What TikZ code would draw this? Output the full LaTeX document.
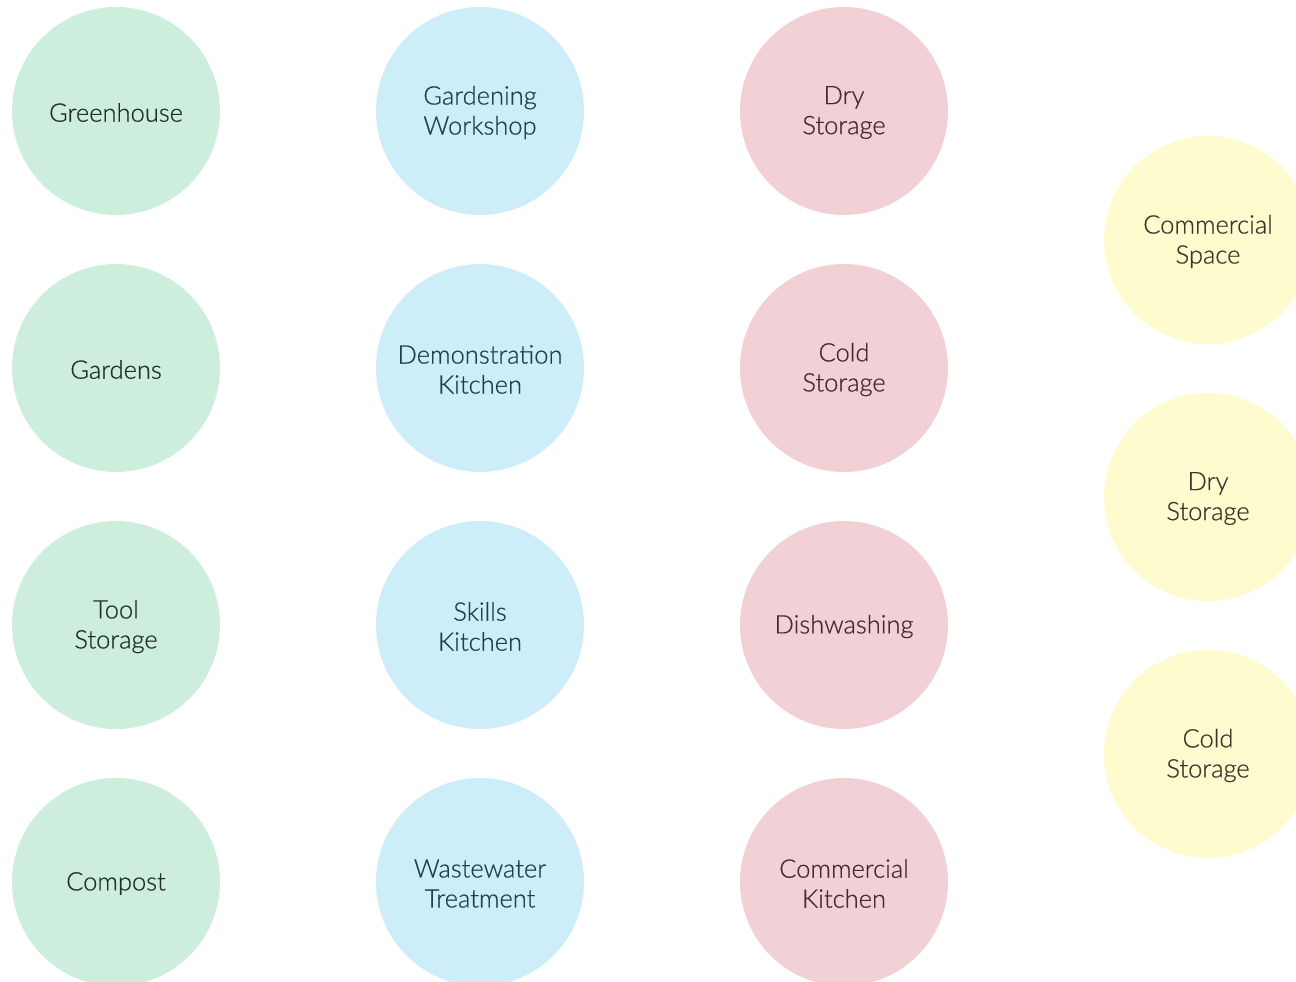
\documentclass[tikz,border=0pt]{standalone}
\usepackage{fontspec}
\setmainfont{Lato Light}[FakeBold=0.6]
\definecolor{gfill}{HTML}{CDEDDD}
\definecolor{bfill}{HTML}{CDEDF9}
\definecolor{pfill}{HTML}{F2D1D6}
\definecolor{yfill}{HTML}{FEFBCE}
\definecolor{gtext}{HTML}{22302A}
\definecolor{btext}{HTML}{1E3F4E}
\definecolor{ptext}{HTML}{4A2830}
\definecolor{ytext}{HTML}{38372A}
\tikzset{
  disc/.style={circle, minimum size=208pt, inner sep=0pt},
  caption/.style={inner sep=0pt, align=center, yshift=-1.5pt,
    font=\fontsize{25.5}{30}\selectfont},
  gbub/.style={disc, fill=gfill},
  bbub/.style={disc, fill=bfill},
  pbub/.style={disc, fill=pfill},
  ybub/.style={disc, fill=yfill},
  gcap/.style={caption, text=gtext},
  bcap/.style={caption, text=btext},
  pcap/.style={caption, text=ptext},
  ycap/.style={caption, text=ytext},
}
\begin{document}
\begin{tikzpicture}[x=1pt,y=-1pt]
\path[use as bounding box] (0,0) rectangle (1296,982);
\begin{scope}
\clip (0,0) rectangle (1296,982);
\node[gbub] (greenhouse) at (116,111) {};
\node[gbub] (gardens) at (116,368) {};
\node[gbub] (toolstorage) at (116,625) {};
\node[gbub] (compost) at (116,882) {};
\node[bbub] (workshop) at (480,111) {};
\node[bbub] (demo) at (480,368) {};
\node[bbub] (skills) at (480,625) {};
\node[bbub] (waste) at (480,882) {};
\node[pbub] (drystorage) at (844,111) {};
\node[pbub] (coldstorage) at (844,368) {};
\node[pbub] (dish) at (844,625) {};
\node[pbub] (commkitchen) at (844,882) {};
\node[ybub] (commspace) at (1208,240) {};
\node[ybub] (ydry) at (1208,497) {};
\node[ybub] (ycold) at (1208,754) {};
\end{scope}
\node[gcap] (greenhouse-t) at (greenhouse) {Greenhouse};
\node[gcap] (gardens-t) at (gardens) {Gardens};
\node[gcap] (toolstorage-t) at (toolstorage) {Tool\\Storage};
\node[gcap] (compost-t) at (compost) {Compost};
\node[bcap] (workshop-t) at (workshop) {Gardening\\Workshop};
\node[bcap] (demo-t) at (demo) {Demonstration\\Kitchen};
\node[bcap] (skills-t) at (skills) {Skills\\Kitchen};
\node[bcap] (waste-t) at (waste) {Wastewater\\Treatment};
\node[pcap] (drystorage-t) at (drystorage) {Dry\\Storage};
\node[pcap] (coldstorage-t) at (coldstorage) {Cold\\Storage};
\node[pcap] (dish-t) at (dish) {Dishwashing};
\node[pcap] (commkitchen-t) at (commkitchen) {Commercial\\Kitchen};
\node[ycap] (commspace-t) at (commspace) {Commercial\\Space};
\node[ycap] (ydry-t) at (ydry) {Dry\\Storage};
\node[ycap] (ycold-t) at (ycold) {Cold\\Storage};
\end{tikzpicture}
\end{document}
